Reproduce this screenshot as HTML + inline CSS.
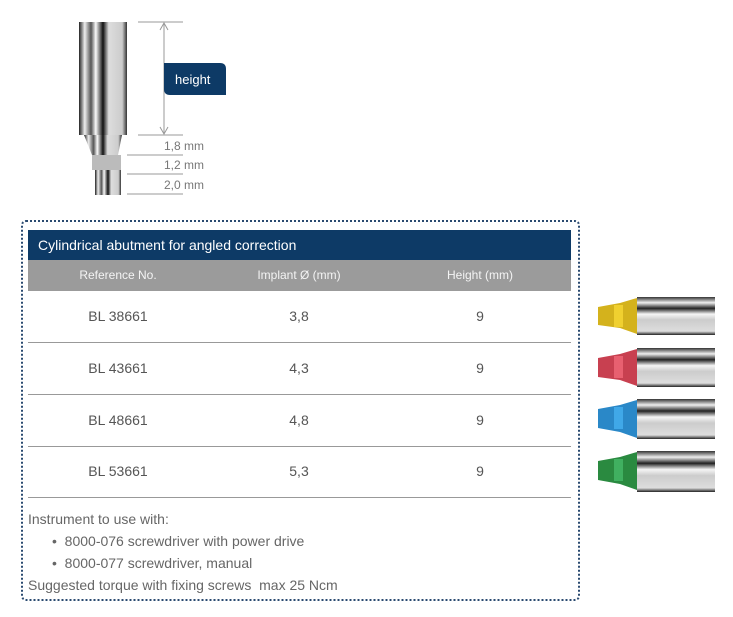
<!DOCTYPE html>
<html><head><meta charset="utf-8"><style>
body{margin:0;width:733px;height:617px;background:#fff;font-family:"Liberation Sans",sans-serif;position:relative;overflow:hidden}
.a{position:absolute}
.box{left:21px;top:220px;width:555px;height:377px;border:2px dotted #2a4a70;border-radius:5px}
.hd{left:28px;top:230px;width:543px;height:30px;background:#0d3a66;color:#fff;font-size:14px;line-height:30px;padding-left:10px;box-sizing:border-box}
.gh{left:28px;top:260px;width:543px;height:31px;background:#9b9b9b;color:#f4f4f4;font-size:12px;line-height:31px}
.c{position:absolute;width:180px;text-align:center;margin-left:-90px}
.row{left:28px;width:543px;height:51px;border-bottom:1px solid #999;color:#555;font-size:14px;line-height:51px}
.t{color:#666;font-size:14px}
.dim{font-size:12px;color:#777}
</style></head><body>
<svg class="a" style="left:0;top:0" width="240" height="205">
<defs>
<linearGradient id="m" x1="0" x2="1"><stop offset="0" stop-color="#222"/><stop offset=".12" stop-color="#eee"/><stop offset=".25" stop-color="#555"/><stop offset=".35" stop-color="#fafafa"/><stop offset=".5" stop-color="#111"/><stop offset=".62" stop-color="#ddd"/><stop offset=".9" stop-color="#ccc"/><stop offset="1" stop-color="#333"/></linearGradient>
</defs>
<rect x="79" y="22" width="48" height="113" fill="url(#m)"/>
<polygon points="84,135 122,135 118,155 92,155" fill="url(#m)"/>
<rect x="92" y="155" width="29" height="15" fill="#bbb"/>
<rect x="95" y="170" width="26" height="25" fill="url(#m)"/>
<g stroke="#999" fill="none"><line x1="138" y1="22" x2="183" y2="22"/><line x1="138" y1="135" x2="183" y2="135"/><line x1="164" y1="23" x2="164" y2="134"/>
<polyline points="160,30 164,23 168,30"/><polyline points="160,127 164,134 168,127"/>
<line x1="127" y1="155" x2="183" y2="155"/><line x1="127" y1="174" x2="183" y2="174"/><line x1="127" y1="194" x2="183" y2="194"/></g>
<path d="M164 63 H220 Q226 63 226 69 V95 H170 Q164 95 164 89Z" fill="#0d3a66"/>
<text x="175" y="84" fill="#fff" font-size="13" font-family="Liberation Sans">height</text>
<text x="164" y="150" class="dim" fill="#777" font-size="12" font-family="Liberation Sans">1,8 mm</text>
<text x="164" y="169" fill="#777" font-size="12" font-family="Liberation Sans">1,2 mm</text>
<text x="164" y="189" fill="#777" font-size="12" font-family="Liberation Sans">2,0 mm</text>
</svg>
<div class="a box"></div>
<div class="a hd">Cylindrical abutment for angled correction</div>
<div class="a gh"><span class="c" style="left:90px">Reference No.</span><span class="c" style="left:271px">Implant Ø (mm)</span><span class="c" style="left:452px">Height (mm)</span></div>
<div class="a row" style="top:291px"><span class="c" style="left:90px">BL 38661</span><span class="c" style="left:271px">3,8</span><span class="c" style="left:452px">9</span></div>
<div class="a row" style="top:343px"><span class="c" style="left:90px">BL 43661</span><span class="c" style="left:271px">4,3</span><span class="c" style="left:452px">9</span></div>
<div class="a row" style="top:395px"><span class="c" style="left:90px">BL 48661</span><span class="c" style="left:271px">4,8</span><span class="c" style="left:452px">9</span></div>
<div class="a row" style="top:446px"><span class="c" style="left:90px">BL 53661</span><span class="c" style="left:271px">5,3</span><span class="c" style="left:452px">9</span></div>
<div class="a t" style="left:28px;top:511px">Instrument to use with:</div>
<div class="a t" style="left:52px;top:533px">•&nbsp; 8000-076 screwdriver with power drive</div>
<div class="a t" style="left:52px;top:555px">•&nbsp; 8000-077 screwdriver, manual</div>
<div class="a t" style="left:28px;top:577px">Suggested torque with fixing screws&nbsp; max 25 Ncm</div>
<svg class="a" style="left:590px;top:290px" width="135" height="210">
<defs>
<linearGradient id="h" x1="0" y1="0" x2="0" y2="1"><stop offset="0" stop-color="#333"/><stop offset=".15" stop-color="#eee"/><stop offset=".3" stop-color="#222"/><stop offset=".45" stop-color="#f5f5f5"/><stop offset=".6" stop-color="#ccc"/><stop offset=".9" stop-color="#ddd"/><stop offset="1" stop-color="#222"/></linearGradient>
</defs>
<g id="u"><rect x="47" y="7" width="78" height="38" fill="url(#h)"/></g>
<polygon points="8,17 30,13 47,8 47,44 30,38 8,35" fill="#d4b21c"/><rect x="24" y="15" width="9" height="22" fill="#f0d030"/>
<rect x="47" y="58" width="78" height="39" fill="url(#h)"/>
<polygon points="8,68 30,64 47,59 47,96 30,90 8,87" fill="#c84050"/><rect x="24" y="66" width="9" height="22" fill="#e86070"/>
<rect x="47" y="109" width="78" height="40" fill="url(#h)"/>
<polygon points="8,119 30,115 47,110 47,148 30,142 8,138" fill="#2a88c8"/><rect x="24" y="117" width="9" height="22" fill="#40a8e8"/>
<rect x="47" y="161" width="78" height="41" fill="url(#h)"/>
<polygon points="8,171 30,167 47,162 47,200 30,194 8,190" fill="#2a8a40"/><rect x="24" y="169" width="9" height="22" fill="#40b060"/>
</svg>
</body></html>
